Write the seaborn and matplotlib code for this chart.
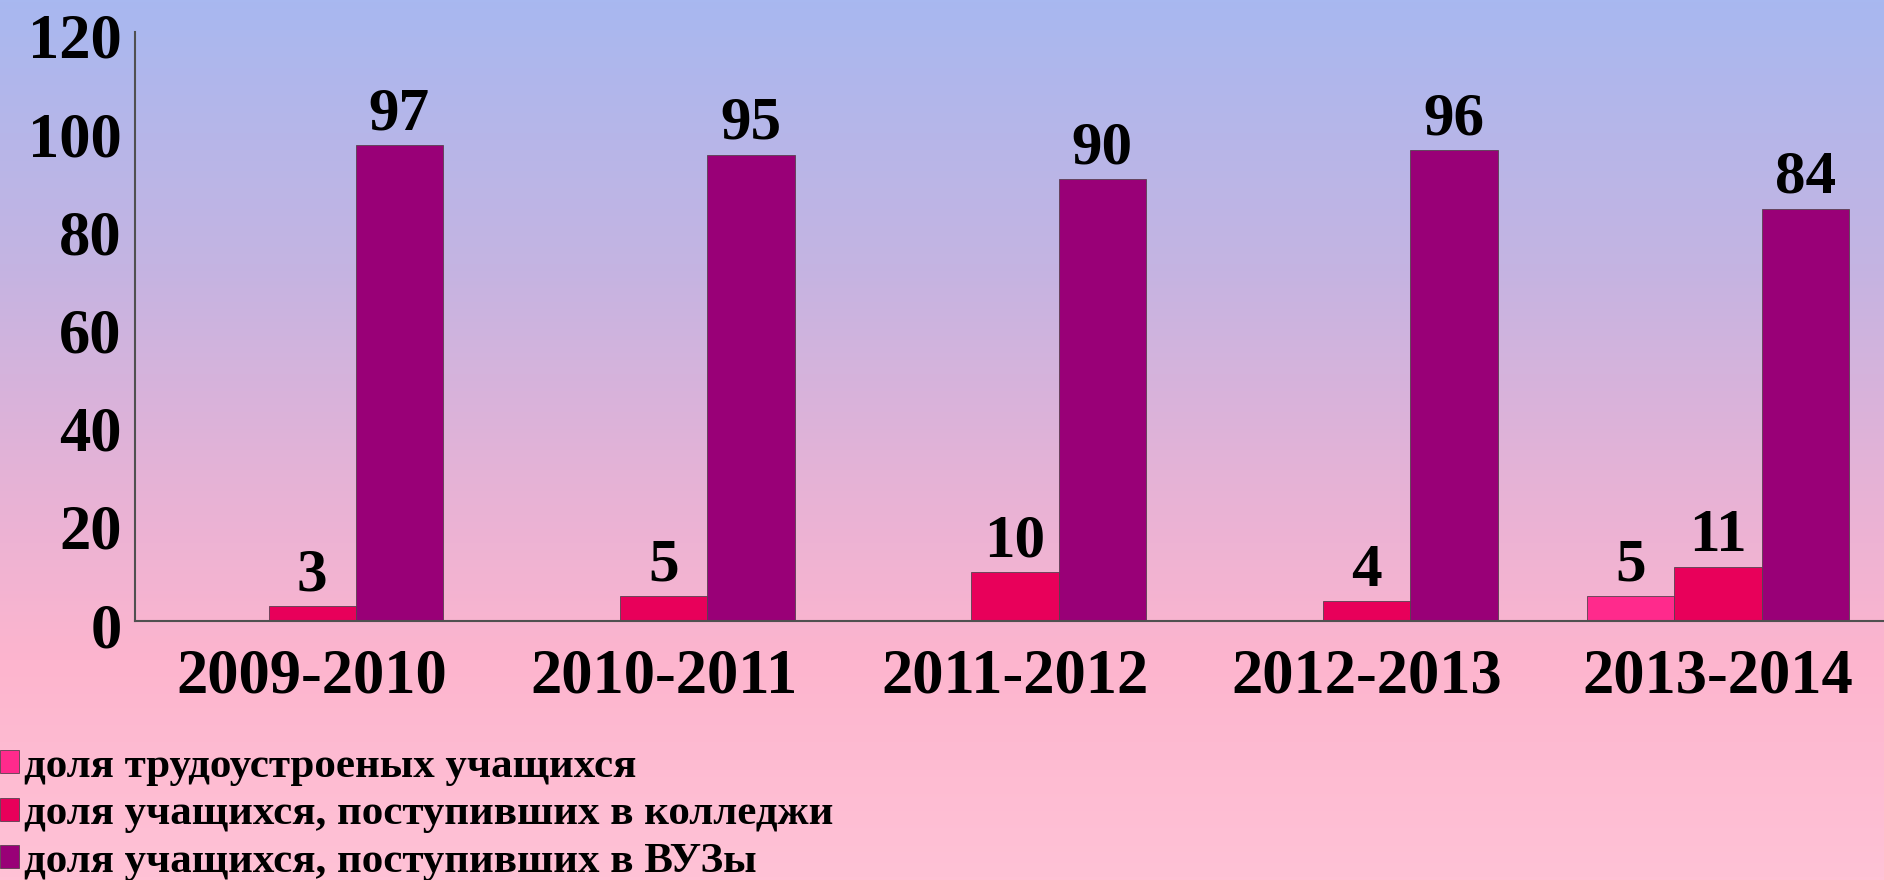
import numpy as np
import pandas as pd
import matplotlib
matplotlib.use("Agg")
import matplotlib.pyplot as plt
import matplotlib.transforms as mtransforms
from matplotlib.colors import LinearSegmentedColormap
import seaborn as sns

years = ["2009-2010", "2010-2011", "2011-2012", "2012-2013", "2013-2014"]
series_names = ["доля трудоустроеных учащихся",
                "доля учащихся, поступивших в колледжи",
                "доля учащихся, поступивших в ВУЗы"]
employed = [0, 0, 0, 0, 5]
colleges = [3, 5, 10, 4, 11]
universities = [97, 95, 90, 96, 84]
yticks = [0, 20, 40, 60, 80, 100, 120]
colors = ["#FF2A8C", "#E8005A", "#990077"]

df = pd.DataFrame({
    "year": years * 3,
    "series": [series_names[0]] * 5 + [series_names[1]] * 5 + [series_names[2]] * 5,
    "value": employed + colleges + universities,
})

sns.set_style("white")
plt.rcParams["font.family"] = ["Liberation Serif", "DejaVu Serif"]
plt.rcParams["font.weight"] = "bold"
plt.rcParams["text.color"] = "black"
plt.rcParams["xtick.color"] = "black"
plt.rcParams["ytick.color"] = "black"

fig = plt.figure(figsize=(18.84, 8.8), dpi=100)

# background gradient
bg = fig.add_axes([0, 0, 1, 1], zorder=-10)
cmap = LinearSegmentedColormap.from_list(
    "bg", [(0.0, "#A8B8F0"), (0.3, "#C4B4E2"), (0.55, "#E6B2D6"),
           (0.75, "#FDB5CE"), (1.0, "#FFC2D6")])
grad = np.linspace(0, 1, 256).reshape(-1, 1)
bg.imshow(grad, aspect="auto", cmap=cmap, extent=[0, 1, 0, 1], origin="upper")
bg.set_axis_off()

ax = fig.add_axes([135 / 1884, 1 - 621 / 880, 1 - 135 / 1884, (621 - 32) / 880])
ax.patch.set_alpha(0)

sns.barplot(data=df, x="year", y="value", hue="series", hue_order=series_names,
            palette=colors, saturation=1, width=0.745, gap=0, ax=ax,
            edgecolor="#5a4050", linewidth=0.6, legend=True)

for cont in ax.containers:
    labels = [f"{int(v)}" if v > 0 else "" for v in cont.datavalues]
    ax.bar_label(cont, labels=labels, padding=2, fontsize=44, fontweight="bold",
                 color="black")

ax.set_ylim(0, 120)
ax.set_xlim(-0.504, 4.472)
ax.set_yticks(yticks)
ax.set_yticklabels([str(t) for t in yticks])
ax.set_xlabel("")
ax.set_ylabel("")
ax.tick_params(axis="y", length=0, pad=9.5, labelsize=45, labelcolor="black")
ax.tick_params(axis="x", length=0, pad=20, labelsize=45, labelcolor="black")
shift = mtransforms.ScaledTranslation(0, -4 / 100, fig.dpi_scale_trans)
for lab in ax.get_yticklabels():
    lab.set_fontweight("bold")
    lab.set_transform(lab.get_transform() + shift)
for lab in ax.get_xticklabels():
    lab.set_fontweight("bold")
for s in ["top", "right"]:
    ax.spines[s].set_visible(False)
for s in ["left", "bottom"]:
    ax.spines[s].set_color("#505050")
    ax.spines[s].set_linewidth(1.5)

handles, labels = ax.get_legend_handles_labels()
ax.get_legend().remove()
fig.legend(handles, labels, loc="upper left", bbox_to_anchor=(0.0, 1 - 748 / 880),
           frameon=False, prop={"weight": "bold", "size": 31},
           handlelength=0.45, handleheight=0.45, handletextpad=0.1,
           labelspacing=0.22, borderpad=0, borderaxespad=0)

fig.savefig("out.png", dpi=100)
